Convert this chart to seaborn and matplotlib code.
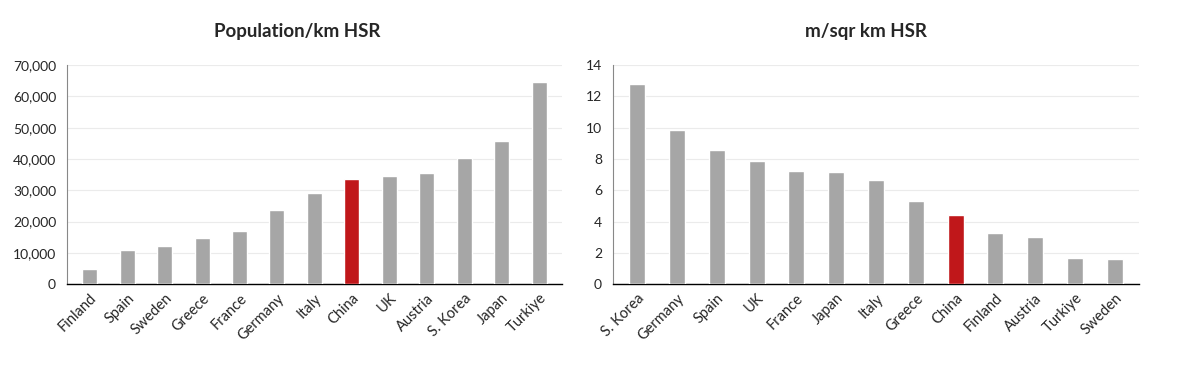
import pandas as pd
import seaborn as sns
from matplotlib import pyplot as plt
from matplotlib.ticker import FuncFormatter

pop_countries = ["Finland", "Spain", "Sweden", "Greece", "France", "Germany", "Italy",
                 "China", "UK", "Austria", "S. Korea", "Japan", "Turkiye"]
pop_values = [5000, 11000, 12200, 14900, 17000, 23800, 29200,
              33500, 34700, 35500, 40200, 45900, 64700]

dens_countries = ["S. Korea", "Germany", "Spain", "UK", "France", "Japan", "Italy",
                  "Greece", "China", "Finland", "Austria", "Turkiye", "Sweden"]
dens_values = [12.8, 9.85, 8.55, 7.9, 7.25, 7.2, 6.65, 5.3, 4.4, 3.3, 3.0, 1.65, 1.6]

GREY = "#A6A6A6"
RED = "#C0171A"

sns.set_theme(style="white")
plt.rcParams["font.family"] = ["Lato", "DejaVu Sans"]

fig = plt.figure(figsize=(12, 3.83), dpi=100)
ax1 = fig.add_axes([0.056, 0.258, 0.412, 0.572])
ax2 = fig.add_axes([0.511, 0.258, 0.438, 0.572])


def draw(ax, countries, values, title, title_x, ymax, step, fmt):
    df = pd.DataFrame({"country": countries, "value": values})
    pal = {c: (RED if c == "China" else GREY) for c in countries}
    sns.barplot(data=df, x="country", y="value", hue="country", palette=pal,
                legend=False, width=0.4, saturation=1, ax=ax, zorder=3)
    ax.set_ylim(0, ymax)
    ax.set_yticks(range(0, ymax + 1, step))
    ax.yaxis.set_major_formatter(FuncFormatter(fmt))
    ax.set_xlim(-0.6, len(countries) - 0.4)
    ax.grid(axis="y", color="#EBEBEB", linewidth=0.8, zorder=0)
    ax.set_xlabel("")
    ax.set_ylabel("")
    ax.set_title(title, fontsize=13.5, fontweight="bold", pad=20, x=title_x)
    for s in ["top", "right"]:
        ax.spines[s].set_visible(False)
    ax.spines["left"].set_color("#888888")
    ax.spines["left"].set_linewidth(0.8)
    ax.spines["bottom"].set_color("black")
    ax.spines["bottom"].set_linewidth(1.0)
    ax.tick_params(axis="y", labelsize=10, length=0, pad=8)
    ax.tick_params(axis="x", labelsize=10.5, length=0, pad=5)
    plt.setp(ax.get_xticklabels(), rotation=45, ha="right", rotation_mode="anchor")


draw(ax1, pop_countries, pop_values, "Population/km HSR", 0.465, 70000, 10000,
     lambda v, p: f"{int(v):,}")
draw(ax2, dens_countries, dens_values, "m/sqr km HSR", 0.481, 14, 2,
     lambda v, p: f"{int(v)}")

fig.savefig("out.png", dpi=100)
